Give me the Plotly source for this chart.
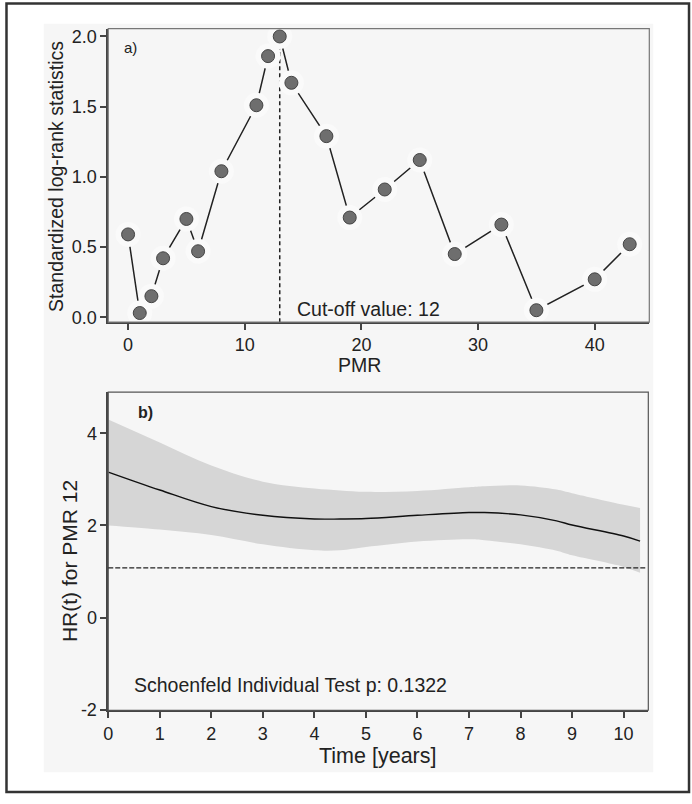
import plotly.graph_objects as go

# panel a) standardized log-rank statistic per PMR cut-off
pmr = [0, 1, 2, 3, 5, 6, 8, 11, 12, 13, 14, 17, 19, 22, 25, 28, 32, 35, 40, 43]
logrank = [0.59, 0.03, 0.15, 0.42, 0.70, 0.47, 1.04, 1.51, 1.86, 2.00, 1.67,
           1.29, 0.71, 0.91, 1.12, 0.45, 0.66, 0.05, 0.27, 0.52]
cutoff_x = 13
top_xticks = [0, 10, 20, 30, 40]
top_yticks = [0, 0.5, 1.0, 1.5, 2.0]

# panel b) time-varying hazard ratio with confidence band
time_yrs = [0, 1, 2, 3, 4, 4.5, 5, 6, 7, 7.3, 8, 8.7, 9, 10, 10.32]
hr = [3.16, 2.77, 2.41, 2.22, 2.14, 2.14, 2.15, 2.22, 2.28, 2.28, 2.23, 2.10, 2.01, 1.77, 1.66]
hr_upper = [4.30, 3.80, 3.30, 2.95, 2.80, 2.76, 2.73, 2.75, 2.83, 2.85, 2.87, 2.78, 2.70, 2.45, 2.38]
hr_lower = [2.00, 1.91, 1.79, 1.59, 1.46, 1.46, 1.53, 1.65, 1.70, 1.68, 1.59, 1.45, 1.35, 1.10, 0.97]
ref_hr = 1.08
bot_xticks = list(range(11))
bot_yticks = [-2, 0, 2, 4]
bot_yticklabels = ["-2", "0", "2", "4"]

FONT = "Liberation Sans, Arial, sans-serif"
W, H = 692, 804
PLOT_BG = "#fafafa"
TXT = "#222222"


def px_x(p):
    return p / W


def px_y(p):
    return 1 - p / H


fig = go.Figure()

# top panel: wide bg-coloured markers give the gaps around points (R type="b")
fig.add_trace(go.Scatter(
    x=pmr, y=logrank, mode="lines+markers",
    line=dict(color="#222222", width=1.5),
    marker=dict(size=25, color=PLOT_BG, line=dict(width=0)),
    xaxis="x", yaxis="y", hoverinfo="skip", showlegend=False))
fig.add_trace(go.Scatter(
    x=pmr, y=logrank, mode="markers",
    marker=dict(size=13, color="#6e6e6e", line=dict(color="#444444", width=1)),
    xaxis="x", yaxis="y", showlegend=False))

# bottom panel: confidence band then HR curve
fig.add_trace(go.Scatter(
    x=time_yrs, y=hr_lower, mode="lines", line=dict(width=0, shape="spline"),
    xaxis="x2", yaxis="y2", hoverinfo="skip", showlegend=False))
fig.add_trace(go.Scatter(
    x=time_yrs, y=hr_upper, mode="lines", line=dict(width=0, shape="spline"),
    fill="tonexty", fillcolor="#d6d6d6",
    xaxis="x2", yaxis="y2", hoverinfo="skip", showlegend=False))
fig.add_trace(go.Scatter(
    x=time_yrs, y=hr, mode="lines", line=dict(color="#111111", width=1.4, shape="spline"),
    xaxis="x2", yaxis="y2", showlegend=False))

shapes = [
    # light grey backdrop behind both panels
    dict(type="rect", xref="paper", yref="paper",
         x0=px_x(39), x1=px_x(653), y0=px_y(782), y1=px_y(22),
         fillcolor="#f6f6f6", line=dict(width=0), layer="below"),
    # outer frame
    dict(type="rect", xref="paper", yref="paper", x0=px_x(1.5), x1=px_x(689), y0=px_y(802), y1=px_y(1.5),
         line=dict(color="#333333", width=2.5)),
    # panel boxes
    dict(type="rect", xref="x domain", yref="y domain", x0=0, x1=1, y0=0, y1=1,
         line=dict(color="#777777", width=1.2)),
    dict(type="rect", xref="x2 domain", yref="y2 domain", x0=0, x1=1, y0=0, y1=1,
         line=dict(color="#555555", width=1.2)),
    # cut-off line
    dict(type="line", xref="x", yref="y domain", x0=cutoff_x, x1=cutoff_x, y0=0, y1=1,
         line=dict(color="#222222", width=1.5, dash="4px,3px"), layer="below"),
    # reference HR line
    dict(type="line", xref="x2 domain", yref="y2", x0=0, x1=0.995, y0=ref_hr, y1=ref_hr,
         line=dict(color="#222222", width=1.2, dash="5px,2px")),
]


def label(text, x, y, size, xanchor="center", xref="paper", yref="paper", angle=0):
    return dict(text=text, xref=xref, yref=yref, x=x, y=y, showarrow=False,
                xanchor=xanchor, yanchor="middle", textangle=angle,
                font=dict(family=FONT, size=size, color=TXT))


annotations = [
    label("a)", 0.026, 0.936, 15, xanchor="left", xref="x domain", yref="y domain"),
    label("Cut-off value: 12", 14.3, 0.056, 19.5, xanchor="left", xref="x", yref="y"),
    label("<b>b)</b>", 0.0515, 0.935, 16, xanchor="left", xref="x2 domain", yref="y2 domain"),
    label("Schoenfeld Individual Test p: 0.1322", 0.044, 0.08, 19.5, xanchor="left",
          xref="x2 domain", yref="y2 domain"),
    # axis titles
    label("PMR", px_x(357), px_y(369), 19.5),
    label("Standardized log-rank statistics", px_x(52), px_y(177), 19.5, angle=-90),
    label("Time [years]", px_x(375), px_y(765), 21.5),
    label("HR(t) for PMR 12", px_x(65), px_y(568), 21, angle=-90),
]

axis_common = dict(
    showgrid=False, zeroline=False, showline=True, linecolor="#444444", linewidth=1.5,
    ticks="outside", ticklen=6, tickwidth=1.5, tickcolor="#444444",
    tickfont=dict(family=FONT, size=18, color=TXT),
)

fig.update_layout(
    width=W, height=H, autosize=False,
    margin=dict(l=0, r=0, t=0, b=0),
    paper_bgcolor="white",
    plot_bgcolor=PLOT_BG,
    shapes=shapes,
    annotations=annotations,
    xaxis=dict(axis_common, domain=[px_x(104), px_x(649)], range=[-1.7, 44.68],
               tickvals=top_xticks, anchor="y"),
    yaxis=dict(axis_common, domain=[px_y(325), px_y(27)], range=[-0.035, 2.056],
               tickvals=top_yticks, tickformat=".1f", anchor="x"),
    xaxis2=dict(axis_common, domain=[px_x(104), px_x(648)], range=[0, 10.48],
                tickvals=bot_xticks, anchor="y2"),
    yaxis2=dict(axis_common, domain=[px_y(719), px_y(396)], range=[-2.015, 4.897],
                tickvals=bot_yticks, ticktext=bot_yticklabels, anchor="x2"),
)

# drop the default body margin so the figure sits at the page origin
page_css = (
    "document.documentElement.style.overflow='hidden';"
    "document.body.style.margin='0px';"
    "document.body.style.overflow='hidden';"
)
fig.write_html("out.html", config={"displayModeBar": False, "responsive": False},
               post_script=page_css)
